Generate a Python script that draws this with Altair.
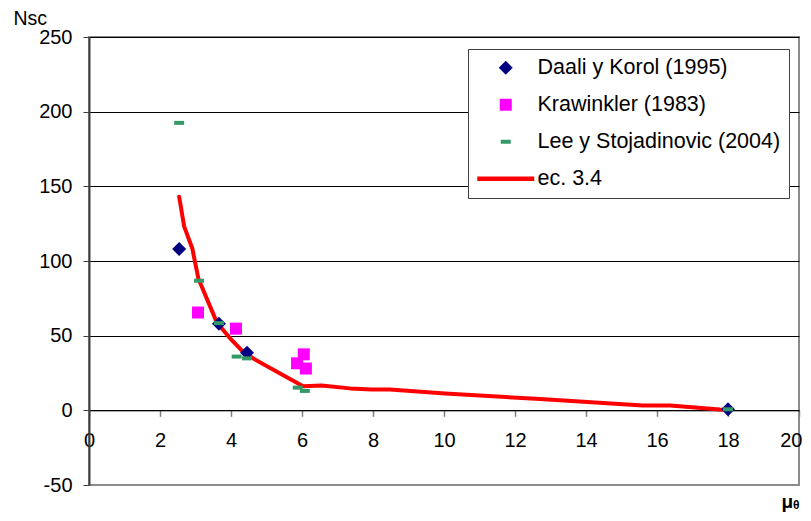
import altair as alt
import pandas as pd

series_names = ["Daali y Korol (1995)", "Krawinkler (1983)", "Lee y Stojadinovic (2004)", "ec. 3.4"]
series_colors = ["#000080", "#FF00FF", "#339966", "#FF0000"]

daali_x = [2.54, 3.66, 4.45, 18.0]
daali_y = [108, 58, 38.5, 0.7]

kraw_x = [3.07, 4.14, 6.05, 5.86, 6.11]
kraw_y = [65.5, 54.7, 37.5, 31.5, 28]

lee_x = [2.54, 3.1, 3.66, 4.16, 4.45, 5.88, 6.08, 18.0]
lee_y = [192.5, 86.8, 58.4, 36, 34.8, 15.2, 13, 0.7]

line_x = [2.54, 2.68, 2.91, 3.08, 3.6, 3.95, 4.3, 4.62, 6.03, 6.55, 7.35, 7.97, 8.48,
          10.03, 12.7, 15.6, 16.37, 17.77, 17.94]
line_y = [143, 123.2, 108.4, 88.3, 58.9, 48.9, 40.2, 34.8, 16.1, 16.7, 14.7, 13.9, 13.9,
          11.2, 7.6, 3.3, 3.3, 0.5, 0.3]

x_ticks = list(range(0, 21, 2))
y_ticks = list(range(-50, 251, 50))

FONT = "Liberation Sans"

rows = []
for name, xs, ys in [(series_names[0], daali_x, daali_y),
                     (series_names[1], kraw_x, kraw_y),
                     (series_names[2], lee_x, lee_y)]:
    for xv, yv in zip(xs, ys):
        rows.append({"mu": xv, "nsc": yv, "series": name})
points_df = pd.DataFrame(rows)
line_df = pd.DataFrame({"mu": line_x, "nsc": line_y, "ord": list(range(len(line_x)))})

diamond = "M0,-1.4L1.4,0L0,1.4L-1.4,0Z"
square = "M-1.2,-1.2H1.2V1.2H-1.2Z"
dash = "M-1,-0.4H1V0.4H-1Z"
linepath = "M-5.7,-0.45H5.7V0.45H-5.7Z"

x_scale = alt.Scale(domain=[0, 20], nice=False)
y_scale = alt.Scale(domain=[-50, 250], nice=False)

x_axis = alt.Axis(
    values=x_ticks, offset=-74.667, grid=False,
    domainColor="black", domainWidth=1,
    tickColor="#808080", tickSize=6, tickWidth=1.5,
    labelFont=FONT, labelFontSize=20, labelColor="black", labelPadding=14,
    labelFlush=False,
    labelAlign={"condition": {"test": "datum.value === 20", "value": "right"}, "value": "center"},
    labelOffset={"condition": {"test": "datum.value === 20", "value": 3}, "value": 0},
    title="μ", titleFont=FONT, titleFontWeight="bold", titleFontSize=19,
    titleAlign="left", titleBaseline="alphabetic", titleX=692, titleY=97,
    titleColor="black",
)
y_axis = alt.Axis(
    values=y_ticks, grid=True,
    gridColor={"condition": {"test": "datum.value === -50", "value": "#8c8c8c"}, "value": "black"},
    gridWidth=1,
    domainColor="#404040", domainWidth=2,
    tickColor="#404040", tickSize=6, tickWidth=1,
    labelFont=FONT, labelFontSize=20, labelColor="black", labelPadding=11,
    labelExpr="'' + datum.value",
    title="Nsc", titleFont=FONT, titleFontSize=19.5, titleFontWeight="normal",
    titleAngle=0, titleAlign="left", titleBaseline="alphabetic",
    titleX=-76, titleY=-13, titleColor="black",
)

legend = alt.Legend(
    title=None, orient="none", legendX=379, legendY=12, padding=8,
    strokeColor="#404040", fillColor="white",
    symbolSize=100, symbolStrokeWidth=0, symbolOpacity=1,
    symbolOffset=19, labelOffset=21, rowPadding=14,
    labelFont=FONT, labelFontSize=21.5, labelColor="black", labelLimit=400,
)

line = alt.Chart(line_df).mark_line(color="#FF0000", strokeWidth=4, strokeJoin="round", strokeCap="round").encode(
    x=alt.X("mu:Q", scale=x_scale, axis=x_axis),
    y=alt.Y("nsc:Q", scale=y_scale, axis=y_axis),
    order="ord:Q",
)

points = alt.Chart(points_df).mark_point(filled=True, opacity=1, size=100, strokeWidth=0).encode(
    x=alt.X("mu:Q", scale=x_scale),
    y=alt.Y("nsc:Q", scale=y_scale),
    color=alt.Color("series:N", scale=alt.Scale(domain=series_names, range=series_colors), legend=legend),
    shape=alt.Shape("series:N", scale=alt.Scale(domain=series_names, range=[diamond, square, dash, linepath]), legend=legend),
)

theta = alt.Chart(pd.DataFrame({"t": ["θ"]})).mark_text(
    font=FONT, fontSize=12, fontWeight="bold", align="left", baseline="alphabetic", color="black"
).encode(text="t:N", x=alt.value(704), y=alt.value(472))

chart = alt.layer(line, points, theta).properties(
    width=710, height=448,
    autosize=alt.AutoSizeParams(type="none"),
    padding={"left": 81, "top": 29, "right": 4, "bottom": 28},
    background="white",
).configure_view(stroke="#8c8c8c", strokeWidth=2)

chart.save("out.html", embed_options={"renderer": "svg", "actions": False})
